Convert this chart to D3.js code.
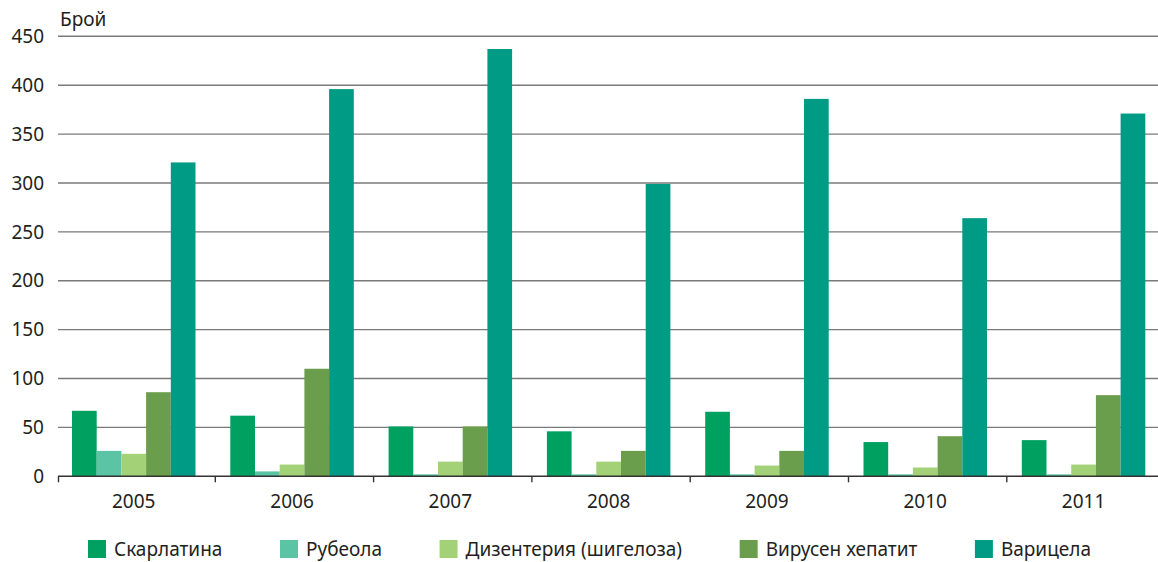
<!DOCTYPE html>
<html>
<head>
<meta charset="utf-8">
<script src="https://cdn.jsdelivr.net/npm/d3@7/dist/d3.min.js"></script>
<style>
  html, body { margin: 0; padding: 0; background: #fff; }
  svg { display: block; font-family: "Noto Sans", sans-serif; }
</style>
</head>
<body>
<svg id="chart" width="1158" height="562"></svg>
<script>
const years = ["2005", "2006", "2007", "2008", "2009", "2010", "2011"];
const seriesNames = ["Скарлатина", "Рубеола", "Дизентерия (шигелоза)", "Вирусен хепатит", "Варицела"];
const scarlatina = [67, 62, 51, 46, 66, 35, 37];
const rubeola    = [26, 5, 2, 2, 2, 2, 2];
const dysentery  = [23, 12, 15, 15, 11, 9, 12];
const hepatitis  = [86, 110, 51, 26, 26, 41, 83];
const varicella  = [321, 396, 437, 299, 386, 264, 371];
const yTicks = [0, 50, 100, 150, 200, 250, 300, 350, 400, 450];
const yLabel = "Брой";
const colors = ["#00a160", "#5bc4a5", "#a3d177", "#6a9e4c", "#009b85"];

const seriesValues = [scarlatina, rubeola, dysentery, hepatitis, varicella];

const svg = d3.select("#chart");
const W = 1158;
const axisLeft = 58;

const y = d3.scaleLinear().domain([0, 450]).range([476.3, 36.3]);
const x0 = d3.scaleBand().domain(years).range([57, 57 + 7 * 158.3]).padding(0);
const x1 = d3.scaleBand().domain(seriesNames).range([15, 15 + 5 * 24.7]).padding(0);

// gridlines
svg.append("g").selectAll("line")
  .data(yTicks.filter(d => d > 0))
  .join("line")
  .attr("x1", axisLeft).attr("x2", W)
  .attr("y1", d => y(d)).attr("y2", d => y(d))
  .attr("stroke", "#7a7a7a").attr("stroke-width", 1.4);

// y tick labels
svg.append("g").selectAll("text")
  .data(yTicks)
  .join("text")
  .attr("x", 44).attr("y", d => y(d))
  .attr("dy", "0.35em")
  .attr("text-anchor", "end")
  .attr("font-size", 19)
  .attr("fill", "#231f20")
  .text(d => d);

svg.append("text")
  .attr("x", 60).attr("y", 26)
  .attr("font-size", 19).attr("fill", "#231f20")
  .text(yLabel);

// bars
const groups = svg.append("g").selectAll("g")
  .data(years)
  .join("g")
  .attr("transform", d => `translate(${x0(d)},0)`);

groups.selectAll("rect")
  .data((yr, i) => seriesNames.map((s, j) => ({ s, j, v: seriesValues[j][i] })))
  .join("rect")
  .attr("x", d => x1(d.s))
  .attr("width", x1.bandwidth())
  .attr("y", d => y(d.v))
  .attr("height", d => y(0) - y(d.v))
  .attr("fill", d => colors[d.j]);

// x axis line
svg.append("line")
  .attr("x1", axisLeft).attr("x2", W)
  .attr("y1", y(0)).attr("y2", y(0))
  .attr("stroke", "#333").attr("stroke-width", 1.6);

// x ticks at band boundaries
svg.append("g").selectAll("line")
  .data(years)
  .join("line")
  .attr("x1", (d, i) => i === 0 ? axisLeft + 0.5 : x0(d))
  .attr("x2", (d, i) => i === 0 ? axisLeft + 0.5 : x0(d))
  .attr("y1", y(0)).attr("y2", y(0) + 6)
  .attr("stroke", "#333").attr("stroke-width", 1.4);

// x labels
svg.append("g").selectAll("text")
  .data(years)
  .join("text")
  .attr("x", d => x0(d) + x1.range()[0] + (x1.range()[1] - x1.range()[0]) / 2)
  .attr("y", 508)
  .attr("text-anchor", "middle")
  .attr("font-size", 19)
  .attr("fill", "#231f20")
  .text(d => d);

// legend
const legend = svg.append("g");
const items = legend.selectAll("g")
  .data(seriesNames)
  .join("g");
items.append("rect")
  .attr("width", 18).attr("height", 18)
  .attr("y", 540)
  .attr("fill", (d, i) => colors[i]);
items.append("text")
  .attr("x", 26).attr("y", 556)
  .attr("font-size", 19).attr("fill", "#231f20")
  .text(d => d);

const widths = [];
items.each(function() {
  widths.push(d3.select(this).select("text").node().getComputedTextLength());
});
const legStart = 88, legEnd = 1091;
const contentW = widths.reduce((a, w) => a + 26 + w, 0);
const gap = (legEnd - legStart - contentW) / (seriesNames.length - 1);
let cx = legStart;
items.attr("transform", (d, i) => {
  const t = `translate(${cx},0)`;
  cx += 26 + widths[i] + gap;
  return t;
});
</script>
</body>
</html>
